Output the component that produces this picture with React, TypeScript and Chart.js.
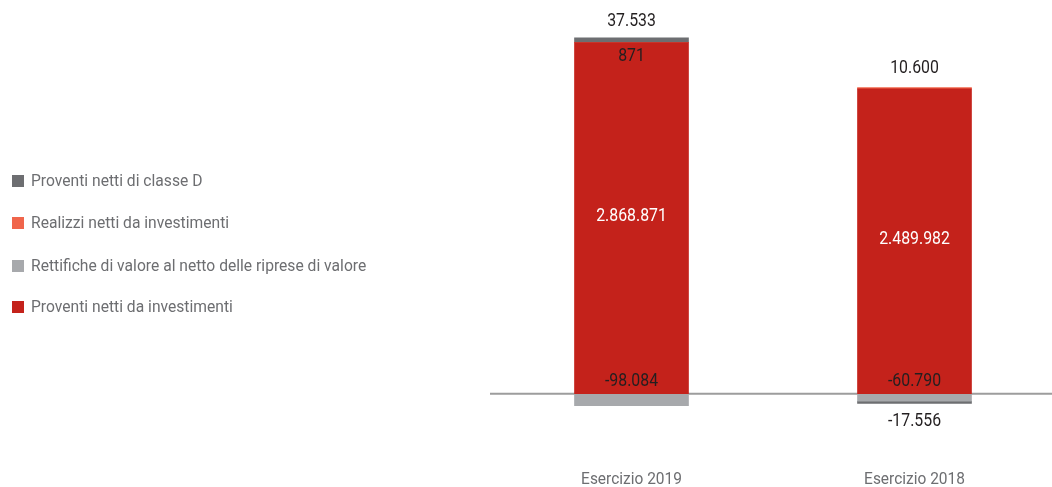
import React, { useEffect, useRef } from "react";
import { Chart, registerables } from "chart.js";

Chart.register(...registerables);

const categories = ["Esercizio 2019", "Esercizio 2018"];
const proventiNetti = [2868871, 2489982];
const rettifiche = [-98084, -60790];
const realizzi = [871, 10600];
const classeD = [37533, -17556];

const legendItems = [
  { label: "Proventi netti di classe D", color: "#6d6e71" },
  { label: "Realizzi netti da investimenti", color: "#f0654b" },
  { label: "Rettifiche di valore al netto delle riprese di valore", color: "#a7a9ac" },
  { label: "Proventi netti da investimenti", color: "#c4221b" },
];

const FONT = "Roboto, sans-serif";

const fmt = (v: number) => {
  const s = Math.abs(v).toString().replace(/\B(?=(\d{3})+(?!\d))/g, ".");
  return (v < 0 ? "-" : "") + s;
};

function text(ctx: CanvasRenderingContext2D, s: string, x: number, y: number, sx: number) {
  ctx.save();
  ctx.translate(x, y);
  ctx.scale(sx, 1);
  ctx.fillText(s, 0, 0);
  ctx.restore();
}

const labelsPlugin = {
  id: "customLabels",
  beforeDatasetsDraw(chart: any) {
    const { ctx, chartArea, scales } = chart;
    const y0 = scales.y.getPixelForValue(0);
    ctx.save();
    ctx.strokeStyle = "#9d9d9d";
    ctx.lineWidth = 2;
    ctx.beginPath();
    ctx.moveTo(chartArea.left, y0);
    ctx.lineTo(chartArea.right, y0);
    ctx.stroke();
    ctx.restore();
  },
  afterDatasetsDraw(chart: any) {
    const { ctx, scales } = chart;
    ctx.save();
    ctx.textAlign = "center";
    ctx.textBaseline = "middle";
    const red = chart.getDatasetMeta(0).data;
    const grey = chart.getDatasetMeta(1).data;
    const orange = chart.getDatasetMeta(2).data;
    const dark = chart.getDatasetMeta(3).data;
    const V = 0.88;
    for (let i = 0; i < categories.length; i++) {
      const x = red[i].x;
      ctx.font = `18px ${FONT}`;
      ctx.fillStyle = "#ffffff";
      text(ctx, fmt(proventiNetti[i]), x, (red[i].y + red[i].base) / 2 - 2, V);
      ctx.fillStyle = "#231f20";
      text(ctx, fmt(rettifiche[i]), x, grey[i].base - 12, V);
      const topIsDark = classeD[i] > 0;
      if (classeD[i] >= 0) {
        text(ctx, fmt(classeD[i]), x, dark[i].y - 16, V);
      } else {
        text(ctx, fmt(classeD[i]), x, dark[i].y + 18, V);
      }
      if (topIsDark) {
        text(ctx, fmt(realizzi[i]), x, orange[i].y + 14, V);
      } else {
        text(ctx, fmt(realizzi[i]), x, Math.min(orange[i].y, red[i].y) - 19, V);
      }
      ctx.fillStyle = "#6d6e71";
      ctx.font = `17px ${FONT}`;
      text(ctx, categories[i], scales.x.getPixelForValue(i), 480, 0.91);
    }
    ctx.textAlign = "left";
    ctx.font = `17px ${FONT}`;
    const ys = [181, 223, 266, 307];
    legendItems.forEach((it, k) => {
      ctx.fillStyle = it.color;
      ctx.fillRect(12, ys[k] - 6, 12, 12);
      ctx.fillStyle = "#6d6e71";
      text(ctx, it.label, 31, ys[k] + 1, 0.92);
    });
    ctx.restore();
  },
};

export default function App() {
  const ref = useRef<HTMLCanvasElement>(null);
  useEffect(() => {
    if (!ref.current) return;
    const chart = new Chart(ref.current, {
      type: "bar",
      data: {
        labels: categories,
        datasets: [
          { label: legendItems[3].label, data: proventiNetti, backgroundColor: legendItems[3].color },
          { label: legendItems[2].label, data: rettifiche, backgroundColor: legendItems[2].color },
          { label: legendItems[1].label, data: realizzi, backgroundColor: legendItems[1].color },
          { label: legendItems[0].label, data: classeD, backgroundColor: legendItems[0].color },
        ],
      },
      options: {
        responsive: false,
        animation: false,
        layout: { padding: { left: 490, right: 4, top: 2, bottom: 32 } },
        plugins: { legend: { display: false }, tooltip: { enabled: false } },
        datasets: { bar: { barThickness: 114 } } as any,
        scales: {
          x: { stacked: true, display: false },
          y: { stacked: true, display: false, min: -500000, max: 3200000 },
        },
      },
      plugins: [labelsPlugin],
    });
    return () => chart.destroy();
  }, []);
  return (
    <div style={{ position: "fixed", left: 0, top: 0, width: 1052, height: 487, overflow: "hidden", background: "#fff" }}>
      <canvas ref={ref} width={1060} height={487} style={{ display: "block" }} />
    </div>
  );
}
